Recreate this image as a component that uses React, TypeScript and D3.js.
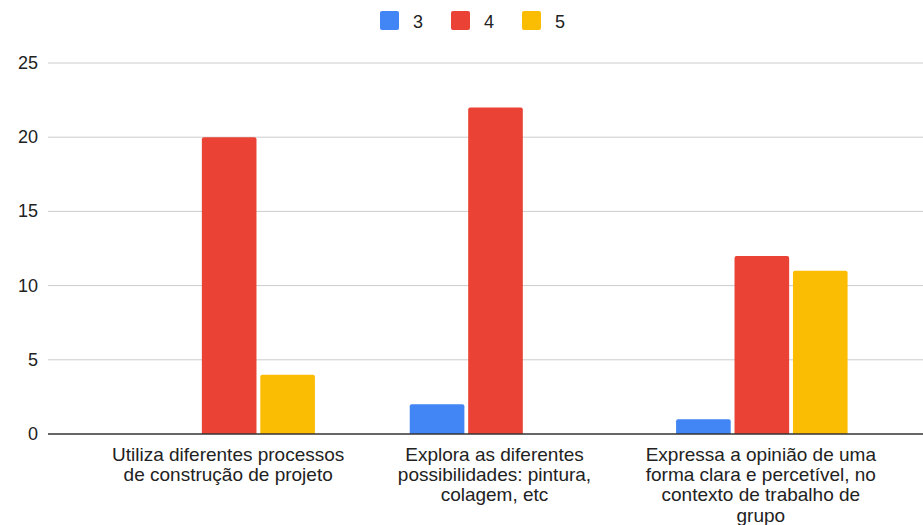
import React from "react";
import * as d3 from "d3";

const categories = [
  "Utiliza diferentes processos de construção de projeto",
  "Explora as diferentes possibilidades: pintura, colagem, etc",
  "Expressa a opinião de uma forma clara e percetível, no contexto de trabalho de grupo",
];
const categoryLines = [
  ["Utiliza diferentes processos", "de construção de projeto"],
  ["Explora as diferentes", "possibilidades: pintura,", "colagem, etc"],
  ["Expressa a opinião de uma", "forma clara e percetível, no", "contexto de trabalho de", "grupo"],
];
const seriesNames = ["3", "4", "5"];
const series3 = [0, 2, 1];
const series4 = [20, 22, 12];
const series5 = [4, 0, 11];
const yTicks = [0, 5, 10, 15, 20, 25];
const colors = ["#4285F4", "#EA4335", "#FBBC04"];

const W = 923;
const H = 525;
const FONT = "'Liberation Sans', Arial, sans-serif";

function barPath(x: number, y: number, w: number, h: number, r: number) {
  if (h <= 0) return "";
  const rr = Math.min(r, h, w / 2);
  return `M${x},${y + h}V${y + rr}Q${x},${y} ${x + rr},${y}H${x + w - rr}Q${x + w},${y} ${x + w},${y + rr}V${y + h}Z`;
}

export default function App() {
  const values = [series3, series4, series5];
  const y = d3.scaleLinear().domain([0, 25]).range([434, 63]);
  const x0 = d3.scaleBand<string>().domain(categories).range([96, 895]).padding(0);
  const inner = 171.5;
  const off = (x0.bandwidth() - inner) / 2;
  const x1 = d3
    .scaleBand<string>()
    .domain(seriesNames)
    .range([off, off + inner])
    .paddingInner(0.065)
    .paddingOuter(0);

  return (
    <div style={{ position: "absolute", left: 0, top: 0 }}>
      <svg width={W} height={H} style={{ display: "block", background: "#fff" }} fontFamily={FONT}>
        {/* legend */}
        {seriesNames.map((s, i) => (
          <g key={s} transform={`translate(${380 + i * 71},11)`}>
            <rect width={19} height={19} rx={2} fill={colors[i]} />
            <text x={33} y={16.5} fontSize={18} fill="#222">
              {s}
            </text>
          </g>
        ))}
        {/* gridlines */}
        {yTicks.map((t) => (
          <g key={t}>
            {t !== 0 && <line x1={48} x2={923} y1={y(t)} y2={y(t)} stroke="#cccccc" strokeWidth={1} />}
            <text x={38} y={y(t) + 6} textAnchor="end" fontSize={18} fill="#222">
              {t}
            </text>
          </g>
        ))}
        {/* bars */}
        {categories.map((c, ci) => (
          <g key={c} transform={`translate(${x0(c)},0)`}>
            {seriesNames.map((s, si) => {
              const v = values[si][ci];
              const bx = x1(s)!;
              const by = y(v);
              return <path key={s} d={barPath(bx, by, x1.bandwidth(), y(0) - by, 2)} fill={colors[si]} />;
            })}
          </g>
        ))}
        {/* baseline */}
        <line x1={48} x2={923} y1={y(0)} y2={y(0)} stroke="#333" strokeWidth={1.3} />
        {/* category labels */}
        {categories.map((c, ci) => (
          <text
            key={c}
            x={x0(c)! + x0.bandwidth() / 2}
            y={461}
            textAnchor="middle"
            fontSize={19}
            fill="#222"
          >
            {categoryLines[ci].map((ln, li) => (
              <tspan key={li} x={x0(c)! + x0.bandwidth() / 2 - 1} dy={li === 0 ? 0 : 20.2}>
                {ln}
              </tspan>
            ))}
          </text>
        ))}
      </svg>
    </div>
  );
}
